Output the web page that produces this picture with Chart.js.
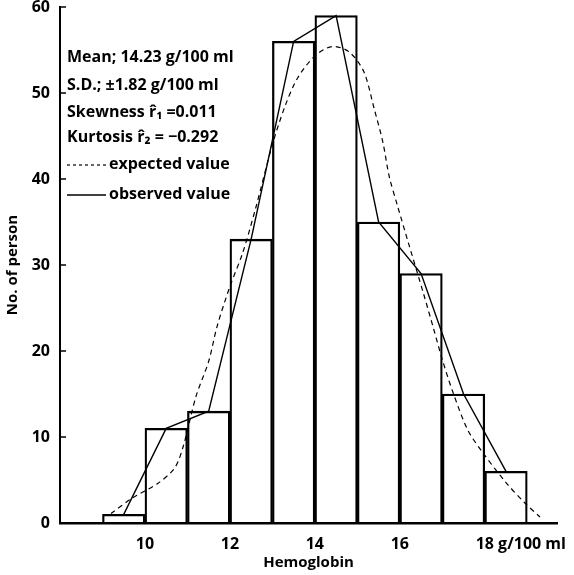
<!DOCTYPE html>
<html>
<head>
<meta charset="utf-8">
<script src="https://cdn.jsdelivr.net/npm/chart.js@4.4.0/dist/chart.umd.min.js"></script>
<style>
  html, body { margin: 0; padding: 0; background: #fff; }
  #wrap { width: 574px; height: 575px; position: relative; }
</style>
</head>
<body>
<div id="wrap"><canvas id="mainChart"></canvas></div>
<script>
// histogram bins (g/100 ml), 1 g wide
const binMids = [9.5, 10.5, 11.5, 12.5, 13.5, 14.5, 15.5, 16.5, 17.5, 18.5];
const binCounts = [1, 11, 13, 33, 56, 59, 35, 29, 15, 6];

// dashed "expected value" curve
const expectedX = [9.2, 9.7, 10.3, 10.7, 10.9, 11.2, 11.5, 11.7, 12.0, 12.3, 12.6, 13.0, 13.3, 13.6, 14.0, 14.4,
                   14.8, 15.15, 15.4, 15.6, 15.75, 15.95, 16.2, 16.55, 16.8, 17.0, 17.25, 17.6, 17.95, 18.5, 18.95, 19.3];
const expectedY = [1.1, 2.9, 4.6, 6.4, 8.9, 14.7, 18.8, 22.9, 27.5, 31.4, 36.5, 44, 48.5, 51.8, 54.3, 55.4,
                   54.8, 52.5, 48.1, 44.3, 40.3, 36.8, 32.6, 26.8, 22.5, 19, 15.2, 10.8, 8.2, 4.7, 2.3, 0.7];

const xTickLabels = [10, 12, 14, 16, 18];
const xUnit = ' g/100 ml';
const statLines = [
    'Mean; 14.23 g/100 ml',
    'S.D.; \u00b11.82 g/100 ml',
    'Skewness r\u0302\u2081 =0.011',
    'Kurtosis r\u0302\u2082 = \u22120.292'
];
const legendLabels = ['expected value', 'observed value'];

const FONT = '"Open Sans", Lato, sans-serif';

const extrasPlugin = {
    id: 'extras',
    afterDraw(chart) {
        const ctx = chart.ctx;
        const x = chart.scales.x;
        const y = chart.scales.y;
        ctx.save();

        // inward tick marks on the y axis
        ctx.strokeStyle = '#000';
        ctx.lineWidth = 1.5;
        y.ticks.forEach(t => {
            const py = y.getPixelForValue(t.value);
            ctx.beginPath();
            ctx.moveTo(x.left, py);
            ctx.lineTo(x.left + 6, py);
            ctx.stroke();
        });

        // unit after the last x tick label
        ctx.font = `bold 16px ${FONT}`;
        ctx.fillStyle = '#000';
        ctx.textBaseline = 'middle';
        ctx.textAlign = 'left';
        const last = xTickLabels[xTickLabels.length - 1];
        const lx = x.getPixelForValue(last) + ctx.measureText(String(last)).width / 2;
        ctx.fillText(xUnit, lx, y.bottom + 21);

        // statistics block
        ctx.font = `bold 16px ${FONT}`;
        const rows = [57, 85, 112, 137];
        statLines.forEach((s, i) => ctx.fillText(s, 67, rows[i]));

        // legend
        ctx.lineWidth = 1.2;
        ctx.setLineDash([3, 3]);
        ctx.beginPath();
        ctx.moveTo(67, 165);
        ctx.lineTo(106, 165);
        ctx.stroke();
        ctx.setLineDash([]);
        ctx.lineWidth = 1.4;
        ctx.beginPath();
        ctx.moveTo(67, 195);
        ctx.lineTo(106, 195);
        ctx.stroke();
        ctx.fillText(legendLabels[0], 109, 164);
        ctx.fillText(legendLabels[1], 109, 194);

        ctx.restore();
    }
};

const ctx = document.getElementById('mainChart').getContext('2d');
new Chart(ctx, {
    type: 'bar',
    data: {
        datasets: [
            {
                type: 'line',
                label: 'observed value',
                data: binMids.map((m, i) => ({ x: m, y: binCounts[i] })),
                borderColor: '#000',
                borderWidth: 1.4,
                pointRadius: 0,
                tension: 0,
                order: 1
            },
            {
                type: 'line',
                label: 'expected value',
                data: expectedX.map((v, i) => ({ x: v, y: expectedY[i] })),
                borderColor: '#000',
                borderWidth: 1.2,
                borderDash: [5, 4],
                pointRadius: 0,
                tension: 0.3,
                order: 2
            },
            {
                type: 'bar',
                label: 'No. of person',
                data: binMids.map((m, i) => ({ x: m, y: binCounts[i] })),
                backgroundColor: 'rgba(255,255,255,0)',
                borderColor: '#000',
                borderWidth: 1.6,
                barPercentage: 1,
                categoryPercentage: 1,
                order: 3
            }
        ]
    },
    options: {
        responsive: true,
        maintainAspectRatio: false,
        animation: false,
        layout: { padding: { top: 7, right: 17, left: 0, bottom: 0 } },
        plugins: {
            legend: { display: false },
            tooltip: { enabled: false }
        },
        scales: {
            x: {
                type: 'linear',
                offset: false,
                min: 8,
                max: 19.7,
                grid: { display: false, drawTicks: false },
                border: { display: true, color: '#000', width: 2.5 },
                ticks: {
                    stepSize: 1,
                    includeBounds: false,
                    autoSkip: false,
                    maxRotation: 0,
                    padding: 12,
                    color: '#000',
                    font: { family: FONT, size: 16, weight: 'bold' },
                    callback: v => xTickLabels.includes(v) ? String(v) : ''
                },
                title: {
                    display: true,
                    text: 'Hemoglobin',
                    color: '#000',
                    font: { family: FONT, size: 15, weight: 'bold' },
                    padding: { top: 0, bottom: 3 }
                },
                afterFit: s => { s.height = 52; s.paddingLeft = 0; s.paddingRight = 0; }
            },
            y: {
                min: 0,
                max: 60,
                grid: { display: false, drawTicks: false },
                border: { display: true, color: '#000', width: 2 },
                ticks: {
                    stepSize: 10,
                    padding: 10,
                    color: '#000',
                    font: { family: FONT, size: 16, weight: 'bold' }
                },
                title: {
                    display: true,
                    text: 'No. of person',
                    color: '#000',
                    font: { family: FONT, size: 15, weight: 'bold' },
                    padding: { top: 4, bottom: 0 }
                },
                afterFit: s => { s.width = 60; s.paddingTop = 0; s.paddingBottom = 0; }
            }
        }
    },
    plugins: [extrasPlugin]
});
</script>
</body>
</html>
